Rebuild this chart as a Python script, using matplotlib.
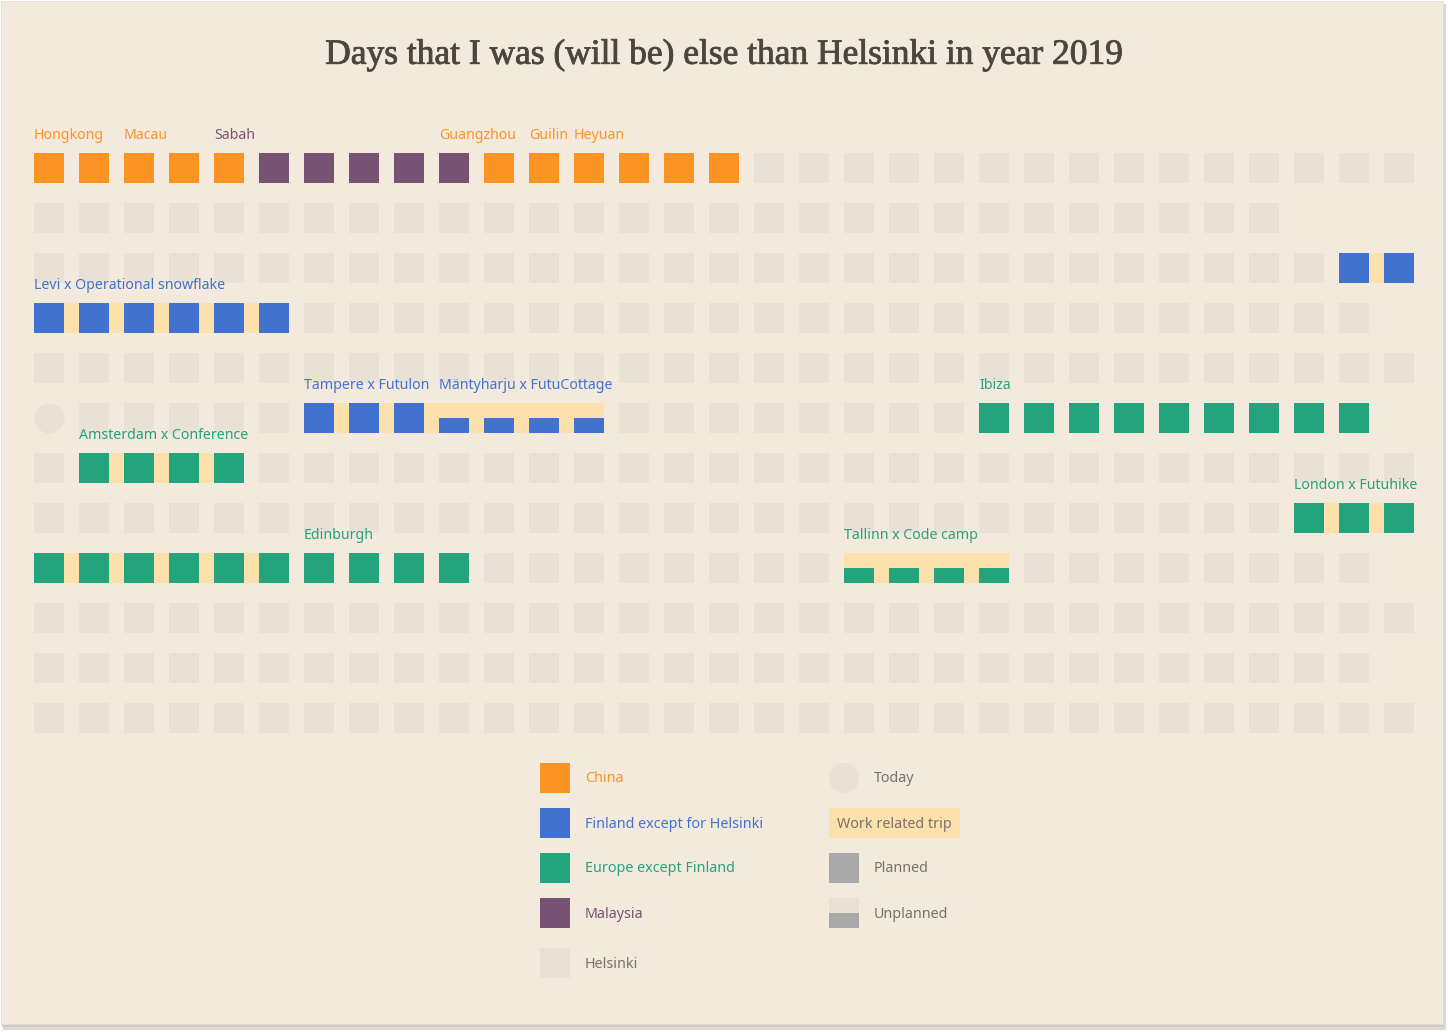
import matplotlib
matplotlib.use("Agg")
import matplotlib.pyplot as plt
from matplotlib.patches import Rectangle, Circle
import matplotlib.patheffects as pe

# ---------------- data ----------------
title = "Days that I was (will be) else than Helsinki in year 2019"
month_days = [31, 28, 31, 30, 31, 30, 31, 31, 30, 31, 30, 31]

region_keys = ["China", "Finland", "Europe", "Malaysia", "Helsinki"]
region_names = ["China", "Finland except for Helsinki", "Europe except Finland",
                "Malaysia", "Helsinki"]
region_colors = ["#fb9423", "#4272cf", "#23a47c", "#765373", "#e9e1d6"]

# days spent away: month, first day, last day, region
stay_month = [1, 1, 1, 3, 4, 6, 6, 7, 8, 9, 9]
stay_start = [1, 6, 11, 30, 1, 7, 22, 2, 29, 1, 19]
stay_end = [5, 10, 16, 31, 6, 13, 30, 5, 31, 10, 22]
stay_region = ["China", "Malaysia", "China", "Finland", "Finland", "Finland",
               "Europe", "Europe", "Europe", "Europe", "Europe"]

# unplanned days: month, first day, last day
unplanned_month = [6, 9]
unplanned_start = [10, 19]
unplanned_end = [13, 22]

# work related trips: month, first day, last day
work_month = [3, 4, 6, 7, 8, 9, 9]
work_start = [30, 1, 7, 2, 29, 1, 19]
work_end = [31, 6, 13, 5, 31, 6, 22]

# trip labels: month, day, text, region
label_month = [1, 1, 1, 1, 1, 1, 4, 6, 6, 6, 7, 8, 9, 9]
label_day = [1, 3, 5, 10, 12, 13, 1, 7, 10, 22, 2, 29, 7, 19]
label_text = ["Hongkong", "Macau", "Sabah", "Guangzhou", "Guilin", "Heyuan",
              "Levi x Operational snowflake", "Tampere x Futulon",
              "Mäntyharju x FutuCottage", "Ibiza", "Amsterdam x Conference",
              "London x Futuhike", "Edinburgh", "Tallinn x Code camp"]
label_region = ["China", "China", "Malaysia", "China", "China", "China",
                "Finland", "Finland", "Finland", "Europe", "Europe",
                "Europe", "Europe", "Europe"]

today_month, today_day = 6, 1

# ---------------- style ----------------
BG = "#f3eadd"
BAND = "#fde1ad"
GRAYTXT = "#7b7169"
PLANNED = "#a9a9a9"
TITLE_C = "#4d463c"
SANS = ["Noto Sans", "DejaVu Sans"]
col = dict(zip(region_keys, region_colors))

W, H, DPI = 1448, 1032, 100
fig = plt.figure(figsize=(W / DPI, H / DPI), dpi=DPI, facecolor="white")

# background card (pixel coordinates)
bg = fig.add_axes([0, 0, 1, 1], zorder=0)
bg.set_xlim(0, W)
bg.set_ylim(H, 0)
bg.axis("off")
bg.add_patch(Rectangle((3, 4), 1443, 1026, fc="#dcd9d6", ec="none"))
bg.add_patch(Rectangle((2, 3), 1442, 1024, fc="#cfcbc7", ec="none"))
bg.add_patch(Rectangle((1, 1), 1442, 1023, fc=BG, ec="#e6ddd0", lw=0.6))
bg.text(724, 55, title, ha="center", va="center", fontsize=25.5,
        family="Liberation Serif", color=TITLE_C,
        path_effects=[pe.withStroke(linewidth=0.6, foreground=TITLE_C)])

# main calendar axes: x = day of month, y = month
ax = fig.add_axes([26.5 / W, 289 / H, 1395 / W, 600 / H], zorder=1)
ax.set_xlim(0.5, 31.5)
ax.set_ylim(12.5, 0.5)
ax.axis("off")
ax.patch.set_alpha(0)

SQ_W, SQ_H = 2 / 3, 0.6

# Helsinki base squares
for m, nd in enumerate(month_days, start=1):
    days = [d for d in range(1, nd + 1) if not (m == today_month and d == today_day)]
    ax.bar(days, SQ_H, bottom=m - SQ_H / 2, width=SQ_W, color=col["Helsinki"],
           linewidth=0, zorder=1)

# today marker
ax.scatter([today_day], [today_month], s=(30 * 72 / DPI) ** 2, marker="o",
           color=col["Helsinki"], linewidths=0, zorder=1)

# work bands
for m, s, e in zip(work_month, work_start, work_end):
    ax.bar((s + e) / 2, SQ_H, bottom=m - SQ_H / 2, width=(e - s) + SQ_W,
           color=BAND, linewidth=0, zorder=2)

def is_unplanned(m, d):
    return any(m == um and us <= d <= ue
               for um, us, ue in zip(unplanned_month, unplanned_start, unplanned_end))

# trip days
for m, s, e, r in zip(stay_month, stay_start, stay_end, stay_region):
    for d in range(s, e + 1):
        if is_unplanned(m, d):
            ax.bar(d, SQ_H / 2, bottom=m, width=SQ_W, color=col[r],
                   linewidth=0, zorder=3)
        else:
            ax.bar(d, SQ_H, bottom=m - SQ_H / 2, width=SQ_W, color=col[r],
                   linewidth=0, zorder=3)

# labels
for m, d, t, r in zip(label_month, label_day, label_text, label_region):
    ax.text(d - SQ_W / 2, m - 0.65, t, ha="left", va="center", fontsize=10.2,
            family=SANS, color=col[r], zorder=4)

# ---------------- legend (pixel coordinates) ----------------
leg_y = [763, 808, 853, 898, 948]
LFS = 10.3
for i, (name, c) in enumerate(zip(region_names, region_colors)):
    y = leg_y[i]
    bg.add_patch(Rectangle((540, y), 30, 30, fc=c, ec="none"))
    tc = GRAYTXT if name == "Helsinki" else c
    bg.text(585, y + 16, name, ha="left", va="center", fontsize=LFS,
            family=SANS, color=tc)

bg.add_patch(Circle((844, 778), 15, fc=col["Helsinki"], ec="none"))
bg.text(874, 779, "Today", ha="left", va="center", fontsize=LFS,
        family=SANS, color=GRAYTXT)
bg.add_patch(Rectangle((829, 808), 131, 30, fc=BAND, ec="none"))
bg.text(837, 824, "Work related trip", ha="left", va="center", fontsize=LFS,
        family=SANS, color=GRAYTXT)
bg.add_patch(Rectangle((829, 853), 30, 30, fc=PLANNED, ec="none"))
bg.text(874, 869, "Planned", ha="left", va="center", fontsize=LFS,
        family=SANS, color=GRAYTXT)
bg.add_patch(Rectangle((829, 898), 30, 15, fc=col["Helsinki"], ec="none"))
bg.add_patch(Rectangle((829, 913), 30, 15, fc=PLANNED, ec="none"))
bg.text(874, 914, "Unplanned", ha="left", va="center", fontsize=LFS,
        family=SANS, color=GRAYTXT)

fig.savefig("out.png", dpi=DPI, facecolor="white")
